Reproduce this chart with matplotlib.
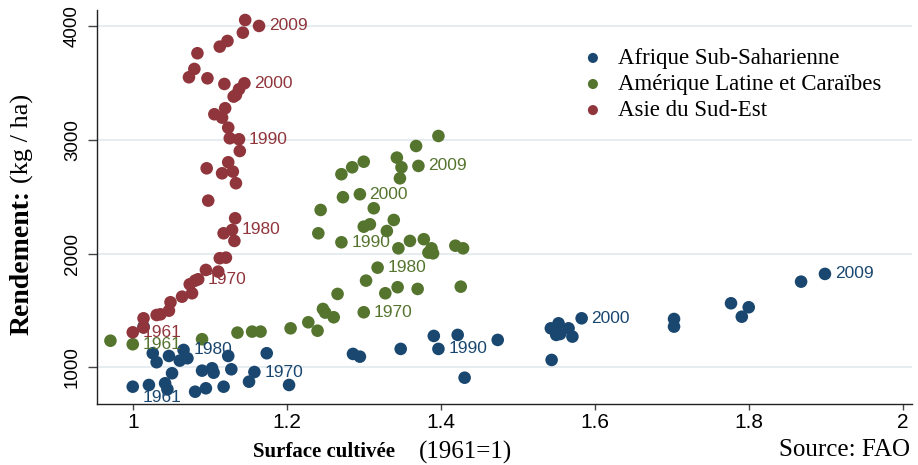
import matplotlib.pyplot as plt

plt.rcParams["font.family"] = "Liberation Sans"

# années étiquetées sur chaque trajectoire
annees = ["1961", "1970", "1980", "1990", "2000", "2009"]

# Afrique Sub-Saharienne
afr_x = [1.000, 1.021, 1.042, 1.045, 1.081, 1.095, 1.118, 1.151, 1.203, 1.158,
         1.051, 1.090, 1.103, 1.105, 1.128, 1.031, 1.061, 1.071, 1.047, 1.026,
         1.124, 1.174, 1.066, 1.014, 1.286, 1.295, 1.348, 1.391, 1.422, 1.397,
         1.474, 1.431, 1.544, 1.543, 1.553, 1.555, 1.550, 1.566, 1.571, 1.583,
         1.703, 1.703, 1.777, 1.791, 1.800, 1.868, 1.899]
afr_y = [831, 846, 861, 808, 787, 817, 831, 875, 846, 960,
         949, 972, 993, 954, 984, 1046, 1060, 1081, 1101, 1125,
         1101, 1125, 1154, 1359, 1119, 1095, 1163, 1277, 1286, 1163,
         1242, 910, 1066, 1344, 1388, 1294, 1286, 1344, 1271, 1432,
         1359, 1426, 1564, 1446, 1529, 1754, 1822]
afr_lab = [0, 9, 22, 29, 39, 46]

# Amérique Latine et Caraïbes
aml_x = [1.000, 0.971, 1.090, 1.136, 1.155, 1.166, 1.205, 1.240, 1.228, 1.261,
         1.250, 1.247, 1.300, 1.266, 1.328, 1.344, 1.370, 1.426, 1.303, 1.318,
         1.345, 1.384, 1.390, 1.388, 1.360, 1.378, 1.419, 1.429, 1.241, 1.271,
         1.330, 1.300, 1.308, 1.339, 1.244, 1.313, 1.273, 1.295, 1.347, 1.271,
         1.285, 1.300, 1.349, 1.371, 1.343, 1.368, 1.397]
aml_y = [1204, 1235, 1248, 1306, 1315, 1315, 1344, 1323, 1397, 1441,
         1482, 1514, 1485, 1646, 1652, 1705, 1690, 1710, 1763, 1877,
         2047, 2009, 2003, 2047, 2112, 2127, 2070, 2047, 2179, 2100,
         2199, 2237, 2258, 2296, 2384, 2399, 2496, 2522, 2662, 2698,
         2759, 2808, 2759, 2771, 2844, 2946, 3034]
aml_lab = [0, 12, 19, 29, 37, 43]

# Asie du Sud-Est
asi_x = [1.000, 1.014, 1.014, 1.031, 1.036, 1.047, 1.049, 1.064, 1.077, 1.074,
         1.081, 1.085, 1.095, 1.111, 1.113, 1.121, 1.132, 1.118, 1.129, 1.133,
         1.098, 1.134, 1.116, 1.130, 1.096, 1.124, 1.139, 1.126, 1.138, 1.124,
         1.116, 1.106, 1.120, 1.131, 1.134, 1.138, 1.119, 1.145, 1.097, 1.073,
         1.080, 1.084, 1.113, 1.123, 1.143, 1.146, 1.164]
asi_y = [1309, 1350, 1432, 1461, 1467, 1499, 1573, 1622, 1652, 1731,
         1763, 1775, 1857, 1842, 1960, 1965, 2112, 2179, 2208, 2311,
         2466, 2619, 2706, 2721, 2750, 2803, 2902, 3014, 3005, 3107,
         3195, 3225, 3278, 3380, 3394, 3445, 3491, 3497, 3541, 3550,
         3623, 3761, 3819, 3869, 3942, 4053, 4001]
asi_lab = [0, 11, 18, 28, 37, 46]

x_ticks = [1, 1.2, 1.4, 1.6, 1.8, 2]
x_ticklabels = ["1", "1.2", "1.4", "1.6", "1.8", "2"]
y_ticks = [1000, 2000, 3000, 4000]

# nom, x, y, indices étiquetés, couleur, décalage de l'étiquette 1961 (points)
series = [
    ("Afrique Sub-Saharienne", afr_x, afr_y, afr_lab, "#1a476f", (7, -8)),
    ("Amérique Latine et Caraïbes", aml_x, aml_y, aml_lab, "#55752f", (7, 0)),
    ("Asie du Sud-Est", asi_x, asi_y, asi_lab, "#90353b", (7, 0)),
]

fig = plt.figure(figsize=(9.18, 4.65), dpi=100)
ax = fig.add_axes([0.1057, 0.1312, 0.8878, 0.8473])

for nom, xs, ys, lab, col, dec in series:
    ax.scatter(xs, ys, s=82, color=col, edgecolors="none", label=nom, zorder=3)
    for i, an in zip(lab, annees):
        off = dec if an == "1961" else (7, 0)
        ax.annotate(an, (xs[i], ys[i]), xytext=off, textcoords="offset points",
                    ha="left", va="center", fontsize=12.5, color=col, zorder=4)

ax.set_xlim(0.9536, 2.0121)
ax.set_ylim(679, 4141)
ax.set_xticks(x_ticks)
ax.set_xticklabels(x_ticklabels)
ax.set_yticks(y_ticks)

ax.yaxis.grid(True, color="#e2eaee", linewidth=1.2)
ax.set_axisbelow(True)
for s in ["top", "right"]:
    ax.spines[s].set_visible(False)
for s in ["left", "bottom"]:
    ax.spines[s].set_color("#222222")
    ax.spines[s].set_linewidth(1.0)

ax.tick_params(axis="x", direction="out", length=4.5, width=1, labelsize=15,
               pad=2, color="#444444")
ax.tick_params(axis="y", direction="out", length=6.5, width=1, labelsize=13.5,
               pad=5, color="#444444", labelrotation=90)
for t in ax.get_yticklabels():
    t.set_va("center")

leg = ax.legend(loc="upper left", bbox_to_anchor=(0.6334, 0.897),
                bbox_transform=fig.transFigure, frameon=False,
                prop={"family": "Liberation Serif", "size": 16.5},
                handlelength=1.0, handletextpad=0.6, labelspacing=0.22,
                borderpad=0, borderaxespad=0, markerscale=0.8)

# titres des axes et source
serif = "Liberation Serif"
fig.text(253 / 918, 1 - 452 / 465, "Surface cultivée", family=serif,
         weight="bold", fontsize=15, ha="left", va="center")
fig.text(465 / 918, 1 - 452 / 465, "(1961=1)", family=serif, fontsize=18,
         ha="center", va="center")
fig.text(910 / 918, 1 - 450 / 465, "Source: FAO", family=serif, fontsize=18,
         ha="right", va="center")

# titre vertical : partie grasse puis unité, l'une à la suite de l'autre
t1 = fig.text(22 / 918, 1 - 335 / 465, "Rendement:", family=serif,
              weight="bold", fontsize=20, rotation=90, ha="center", va="bottom")
bb = t1.get_window_extent(fig.canvas.get_renderer())
fig.text(22 / 918, (bb.y1 + 7) / 465, "(kg / ha)", family=serif, fontsize=19,
         rotation=90, ha="center", va="bottom")

fig.savefig("out.png", dpi=100)
